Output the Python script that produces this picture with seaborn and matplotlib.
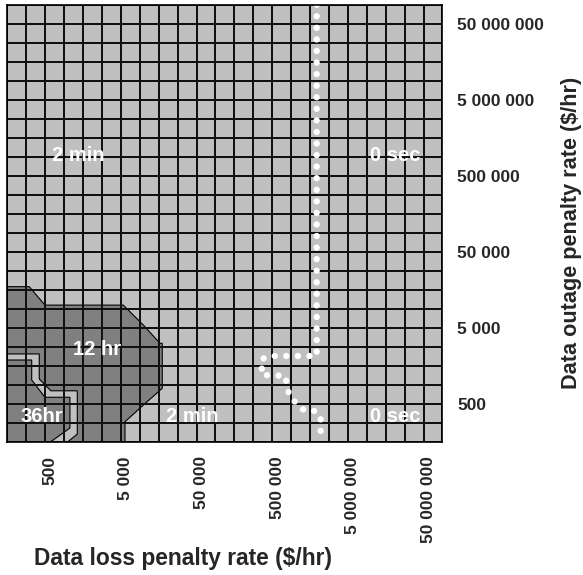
import numpy as np
import matplotlib
matplotlib.use("Agg")
import matplotlib.pyplot as plt
import matplotlib.transforms as mtransforms
from matplotlib.colors import ListedColormap
import seaborn as sns

# Axis values (both axes use the same penalty rates)
rate_values = [500, 5_000, 50_000, 500_000, 5_000_000, 50_000_000]
rate_labels = ["500", "5 000", "50 000", "500 000", "5 000 000", "50 000 000"]

# Surface grid: 23 steps per axis, 4 steps per decade, 500 sits on step 2
n_steps = 23
steps_per_decade = 4
first_tick_step = 2

# Contour bands, in grid steps (loss step, outage step)
band_12hr_x = [0, 0, 1.16, 1.99, 6.13, 7.19, 8.07, 8.19, 8.19, 7.19, 6.22, 6.22]
band_12hr_y = [0, 8.16, 8.16, 7.19, 7.19, 6.14, 5.18, 5.18, 2.81, 1.93, 1.05, 0]

ring_x = [0, 0, 1.69, 1.69, 2.30, 3.70, 3.70, 3.20]
ring_y = [0, 4.62, 4.62, 3.30, 2.68, 2.68, 0.40, 0]

band_36hr_x = [0, 0, 1.29, 1.29, 1.99, 3.31, 3.31, 2.30]
band_36hr_y = [0, 4.30, 4.30, 3.25, 2.34, 2.34, 0.72, 0]

# White dotted line between "2 min" and "0 sec"
split_x = [16.35, 16.35, 13.88, 13.45, 13.45, 14.68, 14.90, 15.30, 15.73, 16.30, 16.56, 16.56]
split_y = [23, 4.51, 4.51, 4.35, 3.51, 3.47, 2.46, 1.98, 1.62, 1.62, 1.25, 0]

# Band labels
band_names = ["2 min", "0 sec", "12 hr", "36hr", "2 min", "0 sec"]
band_name_x = [3.77, 20.49, 4.72, 1.85, 9.76, 20.49]
band_name_y = [15.09, 15.09, 4.83, 1.35, 1.35, 1.32]

LIGHT = "#c0c0c0"
DARK = "#808080"

sns.set_style("white")
plt.rcParams["font.family"] = ["Liberation Sans", "DejaVu Sans"]
plt.rcParams["font.weight"] = "bold"

fig, ax = plt.subplots(figsize=(5.83, 5.75), dpi=100)
fig.subplots_adjust(left=0.0125, right=0.759, bottom=0.2318, top=0.9918)

# grid overlay: transparent cells, black cell borders
sns.heatmap(np.zeros((n_steps, n_steps)), cmap=ListedColormap([(0, 0, 0, 0)]),
            vmin=0, vmax=1, cbar=False, linewidths=1.1, linecolor="#111111", ax=ax)
ax.collections[0].set_zorder(3)
ax.set_ylim(0, n_steps)
ax.set_xlim(0, n_steps)
ax.set_facecolor(LIGHT)

# contour bands
ax.fill(band_12hr_x, band_12hr_y, facecolor=DARK, edgecolor="black", lw=0.8, zorder=1)
ax.fill(ring_x, ring_y, facecolor=LIGHT, edgecolor="black", lw=0.8, zorder=1.1)
ax.fill(band_36hr_x, band_36hr_y, facecolor=DARK, edgecolor="black", lw=0.8, zorder=1.2)

sns.lineplot(x=split_x, y=split_y, sort=False, estimator=None, color="white",
             lw=4.6, linestyle=(0, (0.01, 1.8)), dash_capstyle="round",
             zorder=5, ax=ax)

for name, x, y in zip(band_names, band_name_x, band_name_y):
    ax.text(x, y, name, color="white", fontsize=14.5, fontweight="bold",
            ha="center", va="center", zorder=4)

tick_pos = [first_tick_step + steps_per_decade * np.log10(v / rate_values[0]) for v in rate_values]
ax.set_xticks(tick_pos)
ax.set_xticklabels(rate_labels, rotation=90, fontsize=12.5, fontweight="bold")
ax.yaxis.tick_right()
ax.set_yticks(tick_pos)
ax.set_yticklabels(rate_labels, rotation=0, fontsize=12.5, fontweight="bold")
ax.tick_params(axis="x", length=0, pad=10.5)
ax.tick_params(axis="y", length=0, pad=10.5)

# nudge rotated x labels slightly right, as in the original
shift = mtransforms.ScaledTranslation(5 / 100, 0, fig.dpi_scale_trans)
for lbl in ax.get_xticklabels():
    lbl.set_transform(lbl.get_transform() + shift)

ax.set_xlabel("Data loss penalty rate ($/hr)", fontsize=16.4, fontweight="bold")
ax.xaxis.set_label_coords(0.4037, -0.241)
ax.yaxis.set_label_position("right")
ax.set_ylabel("Data outage penalty rate ($/hr)", fontsize=15.6, fontweight="bold")
ax.yaxis.set_label_coords(1.272, 0.478)

for side in ["left", "right", "top", "bottom"]:
    ax.spines[side].set_visible(True)
    ax.spines[side].set_color("black")
    ax.spines[side].set_linewidth(1.2)
    ax.spines[side].set_zorder(6)

plt.savefig("out.png", dpi=100)
